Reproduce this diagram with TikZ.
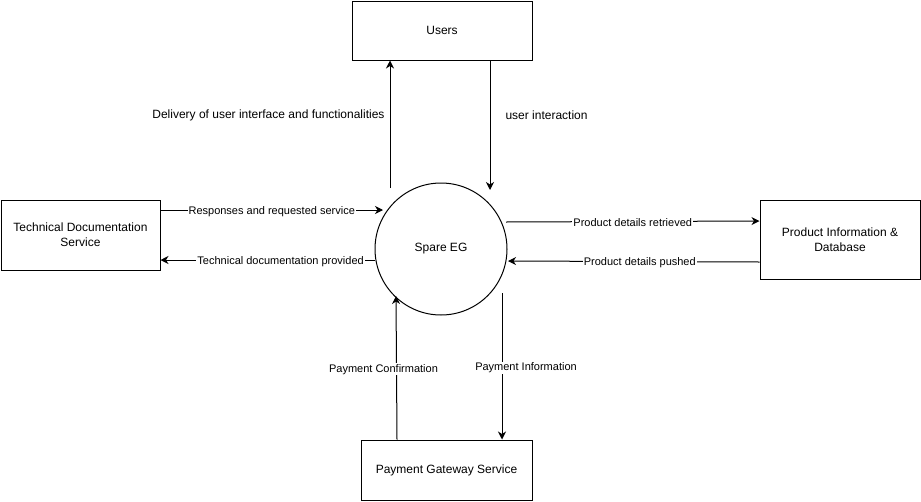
\documentclass[tikz,border=0pt]{standalone}
\usepackage{fontspec}
\setmainfont{Liberation Sans}
\usetikzlibrary{arrows.meta}

\begin{document}
\begin{tikzpicture}[x=1pt,y=-1pt,line width=1pt,
  box/.style={draw,inner sep=0pt,align=center,font=\fontsize{12}{15}\selectfont},
  proc/.style={draw,circle,inner sep=0pt,minimum size=132pt,font=\fontsize{12}{15}\selectfont},
  flow/.style={-{Stealth[length=8pt,width=8pt,inset=2.5pt]}},
  lbl/.style={fill=white,inner sep=1pt,yshift=-1.5pt,font=\fontsize{11}{13}\selectfont},
  note/.style={inner sep=0pt,font=\fontsize{12}{15}\selectfont}]
  \useasboundingbox (0,0) rectangle (921,501);
  \node[box,minimum width=180pt,minimum height=59pt] (users) at (442,30.5) {Users};
  \node[proc] (spare) at (441,249) {Spare EG};
  \node[box,minimum width=159pt,minimum height=70pt] (techdoc) at (80.5,235) {Technical Documentation\\Service};
  \node[box,minimum width=160pt,minimum height=79pt] (prodinfo) at (840,240) {Product Information \&\\Database};
  \node[box,minimum width=171pt,minimum height=60pt] (payment) at (446.5,470) {Payment Gateway Service};
  \draw[flow] ([shift={(-51,-61)}]spare.center) -- ([xshift=-52pt]users.south)
    node[note,pos=0.57,left=5pt] {Delivery of user interface and functionalities};
  \draw[flow] ([xshift=48pt]users.south) -- ([shift={(49,-59)}]spare.center)
    node[note,pos=0.42,right=15pt] {user interaction};
  \draw[flow] ([yshift=25pt]techdoc.east) -- ([shift={(-58,-39)}]spare.center)
    node[lbl,midway] {Responses and requested service};
  \draw[flow] ([shift={(-66,11)}]spare.center) -- ([yshift=-25pt]techdoc.east)
    node[lbl,pos=0.44] {Technical documentation provided};
  \draw[flow] ([shift={(65,-27)}]spare.center) -- ([yshift=19pt]prodinfo.west)
    node[lbl,midway] {Product details retrieved};
  \draw[flow] ([yshift=-22pt]prodinfo.west) -- ([shift={(67,12)}]spare.center)
    node[lbl,pos=0.476] {Product details pushed};
  \draw[flow] ([xshift=-49.5pt]payment.north) -- ([shift={(-45,47)}]spare.center)
    node[lbl,midway,xshift=-13pt] {Payment Confirmation};
  \draw[flow] ([shift={(61,44)}]spare.center) -- ([xshift=55.5pt]payment.north)
    node[lbl,midway,xshift=24pt] {Payment Information};
\end{tikzpicture}
\end{document}
